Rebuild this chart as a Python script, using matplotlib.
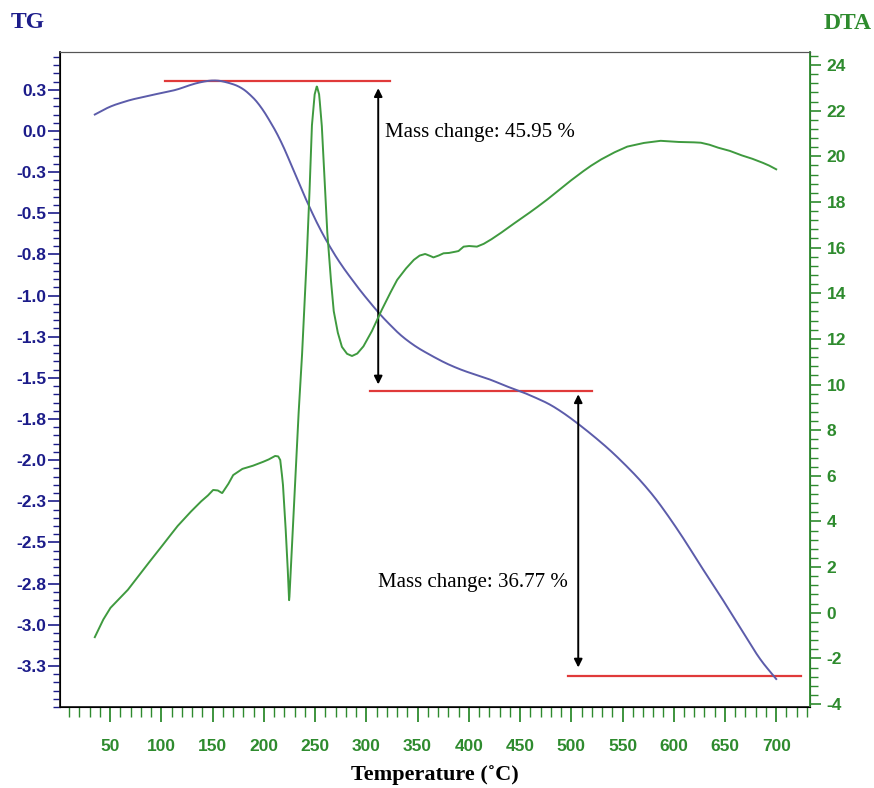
import matplotlib
matplotlib.use("Agg")
import matplotlib.pyplot as plt
import numpy as np
from matplotlib.ticker import MultipleLocator, FixedLocator

plt.rcParams["axes.unicode_minus"] = False

# TG curve (mass change, left axis)
tg_temp = [35, 50, 70, 85, 99, 115, 128, 140, 152, 162, 177, 187, 196, 206, 216, 225,
           235, 245, 255, 265, 275, 294, 314, 333, 348, 362, 377, 392, 406, 421, 436,
           450, 465, 479, 494, 509, 523, 538, 553, 567, 582, 597, 611, 626, 641, 655,
           670, 684, 700]
tg_val = [0.10, 0.15, 0.19, 0.21, 0.23, 0.25, 0.28, 0.30, 0.31, 0.30, 0.27, 0.22, 0.16,
          0.06, -0.05, -0.18, -0.33, -0.47, -0.60, -0.71, -0.81, -0.97, -1.12, -1.24,
          -1.31, -1.36, -1.41, -1.45, -1.48, -1.51, -1.55, -1.58, -1.62, -1.66, -1.72,
          -1.79, -1.86, -1.94, -2.03, -2.12, -2.23, -2.36, -2.49, -2.64, -2.78, -2.92,
          -3.07, -3.21, -3.33]

# DTA curve (right axis)
dta_temp = [35, 43, 50, 67, 80, 92, 104, 115, 127, 138, 145, 150.5, 155, 159.3, 165, 170,
            178.8, 188, 196.4, 204, 211, 214, 216, 218.5, 220.8, 223, 224.7, 226.5, 228.6,
            231, 233.5, 237, 240, 242, 244.5, 246.8, 249.5, 251.7, 254, 256.6, 259, 261.5,
            265, 268, 272, 276, 281, 286, 291, 297, 305, 313.5, 322, 330, 338, 346,
            352, 357.4, 361, 365.5, 370, 375.3, 380, 385, 390, 394.8, 400, 407.8, 414,
            420.9, 430, 440.4, 452, 463, 475, 486, 497, 508.7, 518, 528.2, 541, 554.2,
            570, 586.8, 603, 615, 626, 634, 642.3, 654, 665, 675, 684.5, 692, 700]
dta_val = [-1.07, -0.32, 0.20, 0.99, 1.75, 2.44, 3.12, 3.76, 4.35, 4.85, 5.12, 5.38, 5.36,
           5.24, 5.62, 6.03, 6.30, 6.42, 6.56, 6.70, 6.87, 6.85, 6.69, 5.70, 4.06, 2.20,
           0.47, 2.10, 4.06, 6.10, 8.44, 11.07, 13.80, 15.70, 18.40, 21.30, 22.70, 23.08,
           22.70, 21.30, 19.20, 16.90, 14.80, 13.26, 12.30, 11.66, 11.35, 11.25, 11.35,
           11.66, 12.30, 13.13, 13.90, 14.58, 15.05, 15.45, 15.65, 15.72, 15.66, 15.57,
           15.64, 15.75, 15.76, 15.80, 15.85, 16.04, 16.07, 16.04, 16.15, 16.33, 16.60,
           16.94, 17.30, 17.65, 18.05, 18.45, 18.85, 19.25, 19.55, 19.84, 20.15, 20.42,
           20.58, 20.68, 20.63, 20.62, 20.60, 20.52, 20.39, 20.25, 20.06, 19.92, 19.76,
           19.62, 19.43]

# step lines and arrows (temperature range, TG level)
step_levels = [0.305, -1.579, -3.31]
step_starts = [104, 304, 497]
step_ends = [323, 520, 724]
arrow_temps = [311.6, 506.8]
arrow_tops = [0.26, -1.60]
arrow_bottoms = [-1.54, -3.26]
arrow_labels = ["Mass change: 45.95 %", "Mass change: 36.77 %"]
label_temps = [318.5, 311.5]
label_levels = [-0.01, -2.745]

tg_ticks = [0.25 - 0.25 * i for i in range(15)]
tg_tick_labels = ["0.3", "0.0", "-0.3", "-0.5", "-0.8", "-1.0", "-1.3", "-1.5", "-1.8",
                  "-2.0", "-2.3", "-2.5", "-2.8", "-3.0", "-3.3"]

navy = "#1c1c8a"
green = "#2e8b2e"
tg_color = "#5c5caa"
dta_color = "#3f9a3f"
red = "#e03a3a"


def smooth(xs, ys, win):
    # resample the read-off points densely and take a running mean
    xd = np.linspace(xs[0], xs[-1], 2000)
    yd = np.interp(xd, xs, ys)
    if win <= 1:
        return xd, yd
    pad = win // 2
    # odd reflection at the ends keeps the end slope
    head = 2 * yd[0] - yd[pad:0:-1]
    tail = 2 * yd[-1] - yd[-2:-pad - 2:-1]
    yp = np.concatenate([head, yd, tail])
    ys2 = np.convolve(yp, np.ones(win) / win, mode="valid")
    return xd, ys2


fig = plt.figure(figsize=(8.74, 7.88), dpi=100)
ax = fig.add_axes([0.0686, 0.1028, 0.8582, 0.8312])
ax2 = ax.twinx()

tx, ty = smooth(tg_temp, tg_val, 41)
ax.plot(tx, ty, color=tg_color, lw=1.4, zorder=3)
for lev, x0, x1 in zip(step_levels, step_starts, step_ends):
    ax.plot([x0, x1], [lev, lev], color=red, lw=1.6, zorder=2)
for xt, y0, y1 in zip(arrow_temps, arrow_tops, arrow_bottoms):
    ax.annotate("", xy=(xt, y1), xytext=(xt, y0),
                arrowprops=dict(arrowstyle="<|-|>", color="black", lw=1.4,
                                mutation_scale=12, shrinkA=0, shrinkB=0))
for txt, xt, yt in zip(arrow_labels, label_temps, label_levels):
    ax.text(xt, yt, txt, family="Liberation Serif", fontsize=15, va="center", ha="left")

dx, dy = smooth(dta_temp, dta_val, 1)
ax2.plot(dx, dy, color=dta_color, lw=1.4)

ax.set_xlim(1, 733)
ax.set_ylim(-3.5, 0.48)
ax2.set_ylim(-4.13, 24.57)

tick_font = dict(family="Liberation Sans", weight="bold", size=12.5)

ax.xaxis.set_minor_locator(MultipleLocator(10))
ax.set_xticks(range(50, 701, 50))
ax.tick_params(axis="x", which="major", length=11, width=1.3, color=green,
               labelcolor=green, pad=12)
ax.tick_params(axis="x", which="minor", length=7, width=1.0, color=green)
for lab in ax.get_xticklabels():
    lab.set_fontproperties(tick_font)

ax.yaxis.set_major_locator(FixedLocator(tg_ticks))
ax.set_yticklabels(tg_tick_labels)
ax.yaxis.set_minor_locator(MultipleLocator(0.05))
ax.tick_params(axis="y", which="major", length=9, width=1.2, color=navy,
               labelcolor=navy, pad=1)
ax.tick_params(axis="y", which="minor", length=5, width=1.0, color=navy)
for lab in ax.get_yticklabels():
    lab.set_fontproperties(tick_font)

ax2.yaxis.set_major_locator(MultipleLocator(2))
ax2.yaxis.set_minor_locator(MultipleLocator(0.4))
ax2.tick_params(axis="y", which="major", length=8, width=1.2, color=green,
                labelcolor=green, pad=4)
ax2.tick_params(axis="y", which="minor", length=5.5, width=1.0, color=green)
for lab in ax2.get_yticklabels():
    lab.set_fontproperties(tick_font)

for side in ["left", "bottom"]:
    ax.spines[side].set_color("#222222")
    ax.spines[side].set_linewidth(1.3)
ax.spines["top"].set_color("#555555")
ax2.spines["right"].set_color(green)
ax2.spines["right"].set_linewidth(1.3)
ax2.spines["top"].set_color("#555555")

fig.text(0.012, 0.972, "TG", family="Liberation Serif", weight="bold", fontsize=17,
         color=navy, va="center", ha="left")
fig.text(0.997, 0.970, "DTA", family="Liberation Serif", weight="bold", fontsize=17,
         color=green, va="center", ha="right")
ax.set_xlabel("Temperature (˚C)", family="Liberation Serif", weight="bold",
              fontsize=16, labelpad=8)

fig.savefig("out.png", dpi=100)
